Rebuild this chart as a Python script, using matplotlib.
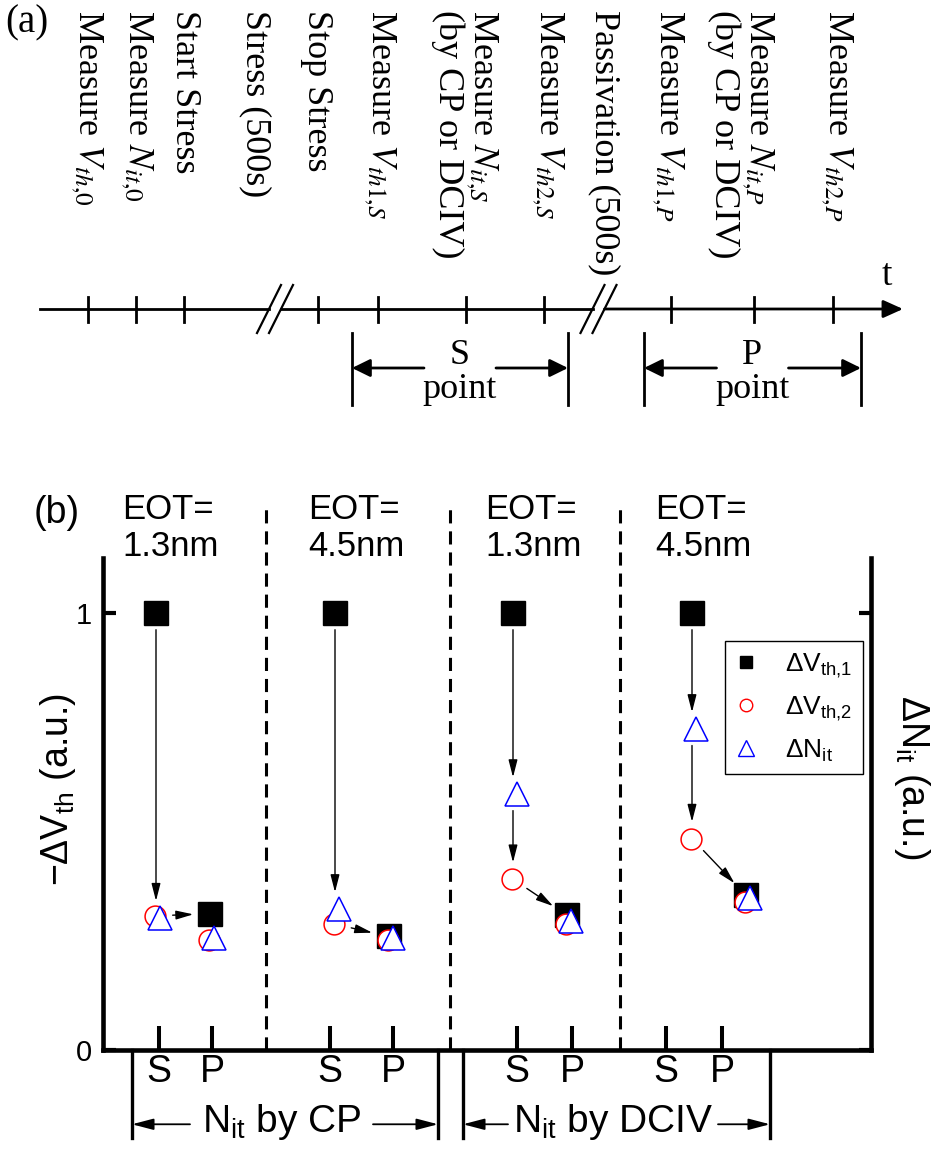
import matplotlib
matplotlib.use("Agg")
import matplotlib.pyplot as plt
from matplotlib.lines import Line2D

plt.rcParams['font.family'] = ['Liberation Sans', 'DejaVu Sans']
plt.rcParams['mathtext.fontset'] = 'custom'
plt.rcParams['mathtext.rm'] = 'Liberation Sans'
plt.rcParams['mathtext.it'] = 'Liberation Sans:italic'
plt.rcParams['mathtext.bf'] = 'Liberation Sans:bold'

# ======================= DATA =======================
# (a) measurement sequence along the time axis
event_labels = [
    'Measure $V_{th{,}0}$',
    'Measure $N_{it{,}0}$',
    'Start Stress',
    'Stress (500s)',
    'Stop Stress',
    'Measure $V_{th1{,}S}$',
    'Measure $N_{it{,}S}$\n(by CP or DCIV)',
    'Measure $V_{th2{,}S}$',
    'Passivation (500s)',
    'Measure $V_{th1{,}P}$',
    'Measure $N_{it{,}P}$\n(by CP or DCIV)',
    'Measure $V_{th2{,}P}$',
]
window_letters = ['S', 'P']
window_word = 'point'
time_label = 't'

# (b) normalised shifts, groups: CP 1.3nm, CP 4.5nm, DCIV 1.3nm, DCIV 4.5nm
eot_labels = ['EOT=\n1.3nm', 'EOT=\n4.5nm', 'EOT=\n1.3nm', 'EOT=\n4.5nm']
method_labels = ['N$_{\\rm it}$ by CP', 'N$_{\\rm it}$ by DCIV']
point_labels = ['S', 'P']
dvth1_S = [1.0, 1.0, 1.0, 1.0]
dvth1_P = [0.312, 0.260, 0.308, 0.354]
dvth2_S = [0.307, 0.288, 0.391, 0.484]
dvth2_P = [0.251, 0.251, 0.288, 0.339]
dnit_S = [0.303, 0.323, 0.586, 0.735]
dnit_P = [0.256, 0.256, 0.295, 0.347]
series_labels = ['ΔV$_{\\rm th{,}1}$', 'ΔV$_{\\rm th{,}2}$', 'ΔN$_{\\rm it}$']
ylabel_left = '−ΔV$_{\\rm th}$ (a.u.)'
ylabel_right = 'ΔN$_{\\rm it}$ (a.u.)'
# arrows drawn between measurements in each group
arrow_paths = [
    [('v1S', 'nS'), ('v2S', 'v1P')],
    [('v1S', 'nS'), ('v2S', 'v1P')],
    [('v1S', 'nS'), ('nS', 'v2S'), ('v2S', 'v1P')],
    [('v1S', 'nS'), ('nS', 'v2S'), ('v2S', 'v1P')],
]

# ======================= LAYOUT =======================
W, H = 936, 1153
fig = plt.figure(figsize=(W / 100, H / 100), dpi=100)

# ---------- panel (a): schematic in pixel coordinates ----------
axa = fig.add_axes([0, 0, 1, 1])
axa.set_xlim(0, W)
axa.set_ylim(H, 0)
axa.axis('off')

SERIF = dict(family=['Liberation Serif', 'DejaVu Serif'], math_fontfamily='stix')
event_x = [87, 137, 185, 255, 316, 380, 465, 548, 604, 668, 741, 837]
tick_x = [88, 136, 184, 318, 378, 466, 544, 671, 754, 833]
axis_y = 309
break_x = [275, 598.5]
line_start, line_end = 40, 903
lw_a = 2.0

for lbl, x in zip(event_labels, event_x):
    axa.text(x, 10, lbl, rotation=270, ha='center', va='top',
             multialignment='left', fontsize=26, linespacing=0.98, **SERIF)

axa.text(27, 23, '(a)', ha='center', va='center', fontsize=28, **SERIF)

# axis line, broken at the two gaps
segs = [line_start, break_x[0] - 6, break_x[0] + 6, break_x[1] - 6, break_x[1] + 6]
axa.plot([segs[0], segs[1]], [axis_y, axis_y], color='k', lw=lw_a)
axa.plot([segs[2], segs[3]], [axis_y, axis_y], color='k', lw=lw_a)
axa.annotate('', xy=(line_end, axis_y), xytext=(segs[4], axis_y),
             arrowprops=dict(arrowstyle='-|>,head_length=0.6,head_width=0.27',
                             mutation_scale=20, lw=lw_a, color='k',
                             shrinkA=0, shrinkB=0))
for bx in break_x:
    for off in (-6, 6):
        axa.plot([bx + off - 12, bx + off + 12], [333, 285], color='k', lw=1.6)
for x in tick_x:
    axa.plot([x, x], [297, 322], color='k', lw=lw_a)
axa.text(887, 276, time_label, ha='center', va='center', fontsize=27, **SERIF)

# S / P windows
windows = [(352, 568), (644, 861)]
for (x0, x1), letter in zip(windows, window_letters):
    xc = (x0 + x1) / 2
    for xx in (x0, x1):
        axa.plot([xx, xx], [333, 405], color='k', lw=lw_a)
    for tip, tail in ((x0, xc - 36), (x1, xc + 36)):
        axa.annotate('', xy=(tip, 368), xytext=(tail, 368),
                     arrowprops=dict(arrowstyle='-|>,head_length=0.55,head_width=0.27',
                                     mutation_scale=20, lw=lw_a, color='k',
                                     shrinkA=0, shrinkB=0))
    axa.text(xc, 355, letter, ha='center', va='center', fontsize=26, **SERIF)
    axa.text(xc, 389, window_word, ha='center', va='center', fontsize=26, **SERIF)

# ---------- panel (b) ----------
axb = fig.add_axes([103 / W, 1 - 1050 / H, 768 / W, 492 / H])
axb.patch.set_visible(False)
axb.set_xlim(0, 15.36)
axb.set_ylim(0, 1.126)
for s in ('left', 'right', 'bottom'):
    axb.spines[s].set_linewidth(3.3)
axb.spines['top'].set_visible(False)

mark_S = [1.06, 4.64, 8.20, 11.78]
mark_P = [2.14, 5.71, 9.28, 12.86]
tick_S = [1.12, 4.54, 8.28, 11.26]
tick_P = [2.18, 5.80, 9.38, 12.38]
sep_x = [3.26, 6.94, 10.34]
circ_dx, tri_dx = -0.02, 0.08

ticks = []
labels = []
for s, p in zip(tick_S, tick_P):
    ticks += [s, p]
    labels += point_labels
axb.set_xticks(ticks, labels)
axb.tick_params(axis='x', direction='in', length=17, width=2.9, labelsize=27, pad=3)
axb.set_yticks([0, 1], ['0', '1'])
axb.tick_params(axis='y', direction='in', length=9, width=3.0, labelsize=21, pad=8,
                right=True, labelright=False)

for x in sep_x:
    axb.plot([x, x], [0, 1.254], color='k', lw=2.2, ls=(0, (4.3, 2.6)), clip_on=False)

axb.plot(mark_S, dvth1_S, ls='none', marker='s', ms=17, color='k', zorder=3, clip_on=False)
axb.plot(mark_P, dvth1_P, ls='none', marker='s', ms=17, color='k', zorder=3)
axb.plot([x + circ_dx for x in mark_S], dvth2_S, ls='none', marker='o', ms=15,
         mfc='white', mec='red', mew=1.1, zorder=4)
axb.plot([x + circ_dx for x in mark_P], dvth2_P, ls='none', marker='o', ms=15,
         mfc='white', mec='red', mew=1.1, zorder=4)
axb.plot([x + tri_dx for x in mark_S], dnit_S, ls='none', marker='^', ms=17,
         mfc='white', mec='blue', mew=1.1, zorder=5)
axb.plot([x + tri_dx for x in mark_P], dnit_P, ls='none', marker='^', ms=17,
         mfc='white', mec='blue', mew=1.1, zorder=5)


def point(key, g):
    table = {'v1S': (mark_S, dvth1_S), 'v1P': (mark_P, dvth1_P),
             'v2S': (mark_S, dvth2_S), 'v2P': (mark_P, dvth2_P),
             'nS': (mark_S, dnit_S), 'nP': (mark_P, dnit_P)}
    xs, ys = table[key]
    return xs[g], ys[g]


for g, path in enumerate(arrow_paths):
    for a, b in path:
        axb.annotate('', xy=point(b, g), xytext=point(a, g),
                     arrowprops=dict(arrowstyle='-|>,head_length=0.7,head_width=0.18',
                                     mutation_scale=15, lw=1.0, color='k',
                                     shrinkA=12, shrinkB=12), zorder=6)

# EOT labels
eot_x = [0.38, 4.10, 7.64, 11.04]
for x, lbl in zip(eot_x, eot_labels):
    axb.text(x, 1.275, lbl, ha='left', va='top', fontsize=25, linespacing=1.15,
             clip_on=False)
axb.text(-0.92, 1.229, '(b)', ha='center', va='center', fontsize=27, clip_on=False)

# method brackets below the axis
brackets = [(0.58, 6.70), (7.20, 13.34)]
tails = [(1.74, 5.40), (8.10, 12.30)]
for (x0, x1), (t0, t1), lbl in zip(brackets, tails, method_labels):
    for xx in (x0, x1):
        axb.plot([xx, xx], [0, -0.201], color='k', lw=2.4, clip_on=False)
    for tip, tail in ((x0, t0), (x1, t1)):
        axb.annotate('', xy=(tip, -0.170), xytext=(tail, -0.170), annotation_clip=False,
                     arrowprops=dict(arrowstyle='-|>,head_length=0.65,head_width=0.17',
                                     mutation_scale=20, lw=1.3, color='k',
                                     shrinkA=0, shrinkB=0))
    axb.text((t0 + t1) / 2, -0.188, lbl, ha='center', va='baseline', fontsize=28,
             clip_on=False)

# axis labels
axb.text(-0.058, 0.530, ylabel_left, rotation=90, ha='center', va='center',
         fontsize=27, transform=axb.transAxes)
axb.text(1.053, 0.555, ylabel_right, rotation=270, ha='center', va='center',
         fontsize=27, transform=axb.transAxes)

# legend
handles = [
    Line2D([], [], ls='none', marker='s', ms=9, color='k'),
    Line2D([], [], ls='none', marker='o', ms=9, mfc='white', mec='red', mew=1.0),
    Line2D([], [], ls='none', marker='^', ms=11, mfc='white', mec='blue', mew=1.0),
]
leg = axb.legend(handles, series_labels, loc='upper right', bbox_to_anchor=(0.9896, 0.8313),
                 borderaxespad=0, fontsize=19, frameon=True, fancybox=False,
                 edgecolor='k', handlelength=0.77, handletextpad=1.1, borderpad=0.4,
                 labelspacing=0.55, numpoints=1)
leg.get_frame().set_linewidth(1.0)
leg.get_frame().set_alpha(1)

fig.savefig('out.png', dpi=100)
